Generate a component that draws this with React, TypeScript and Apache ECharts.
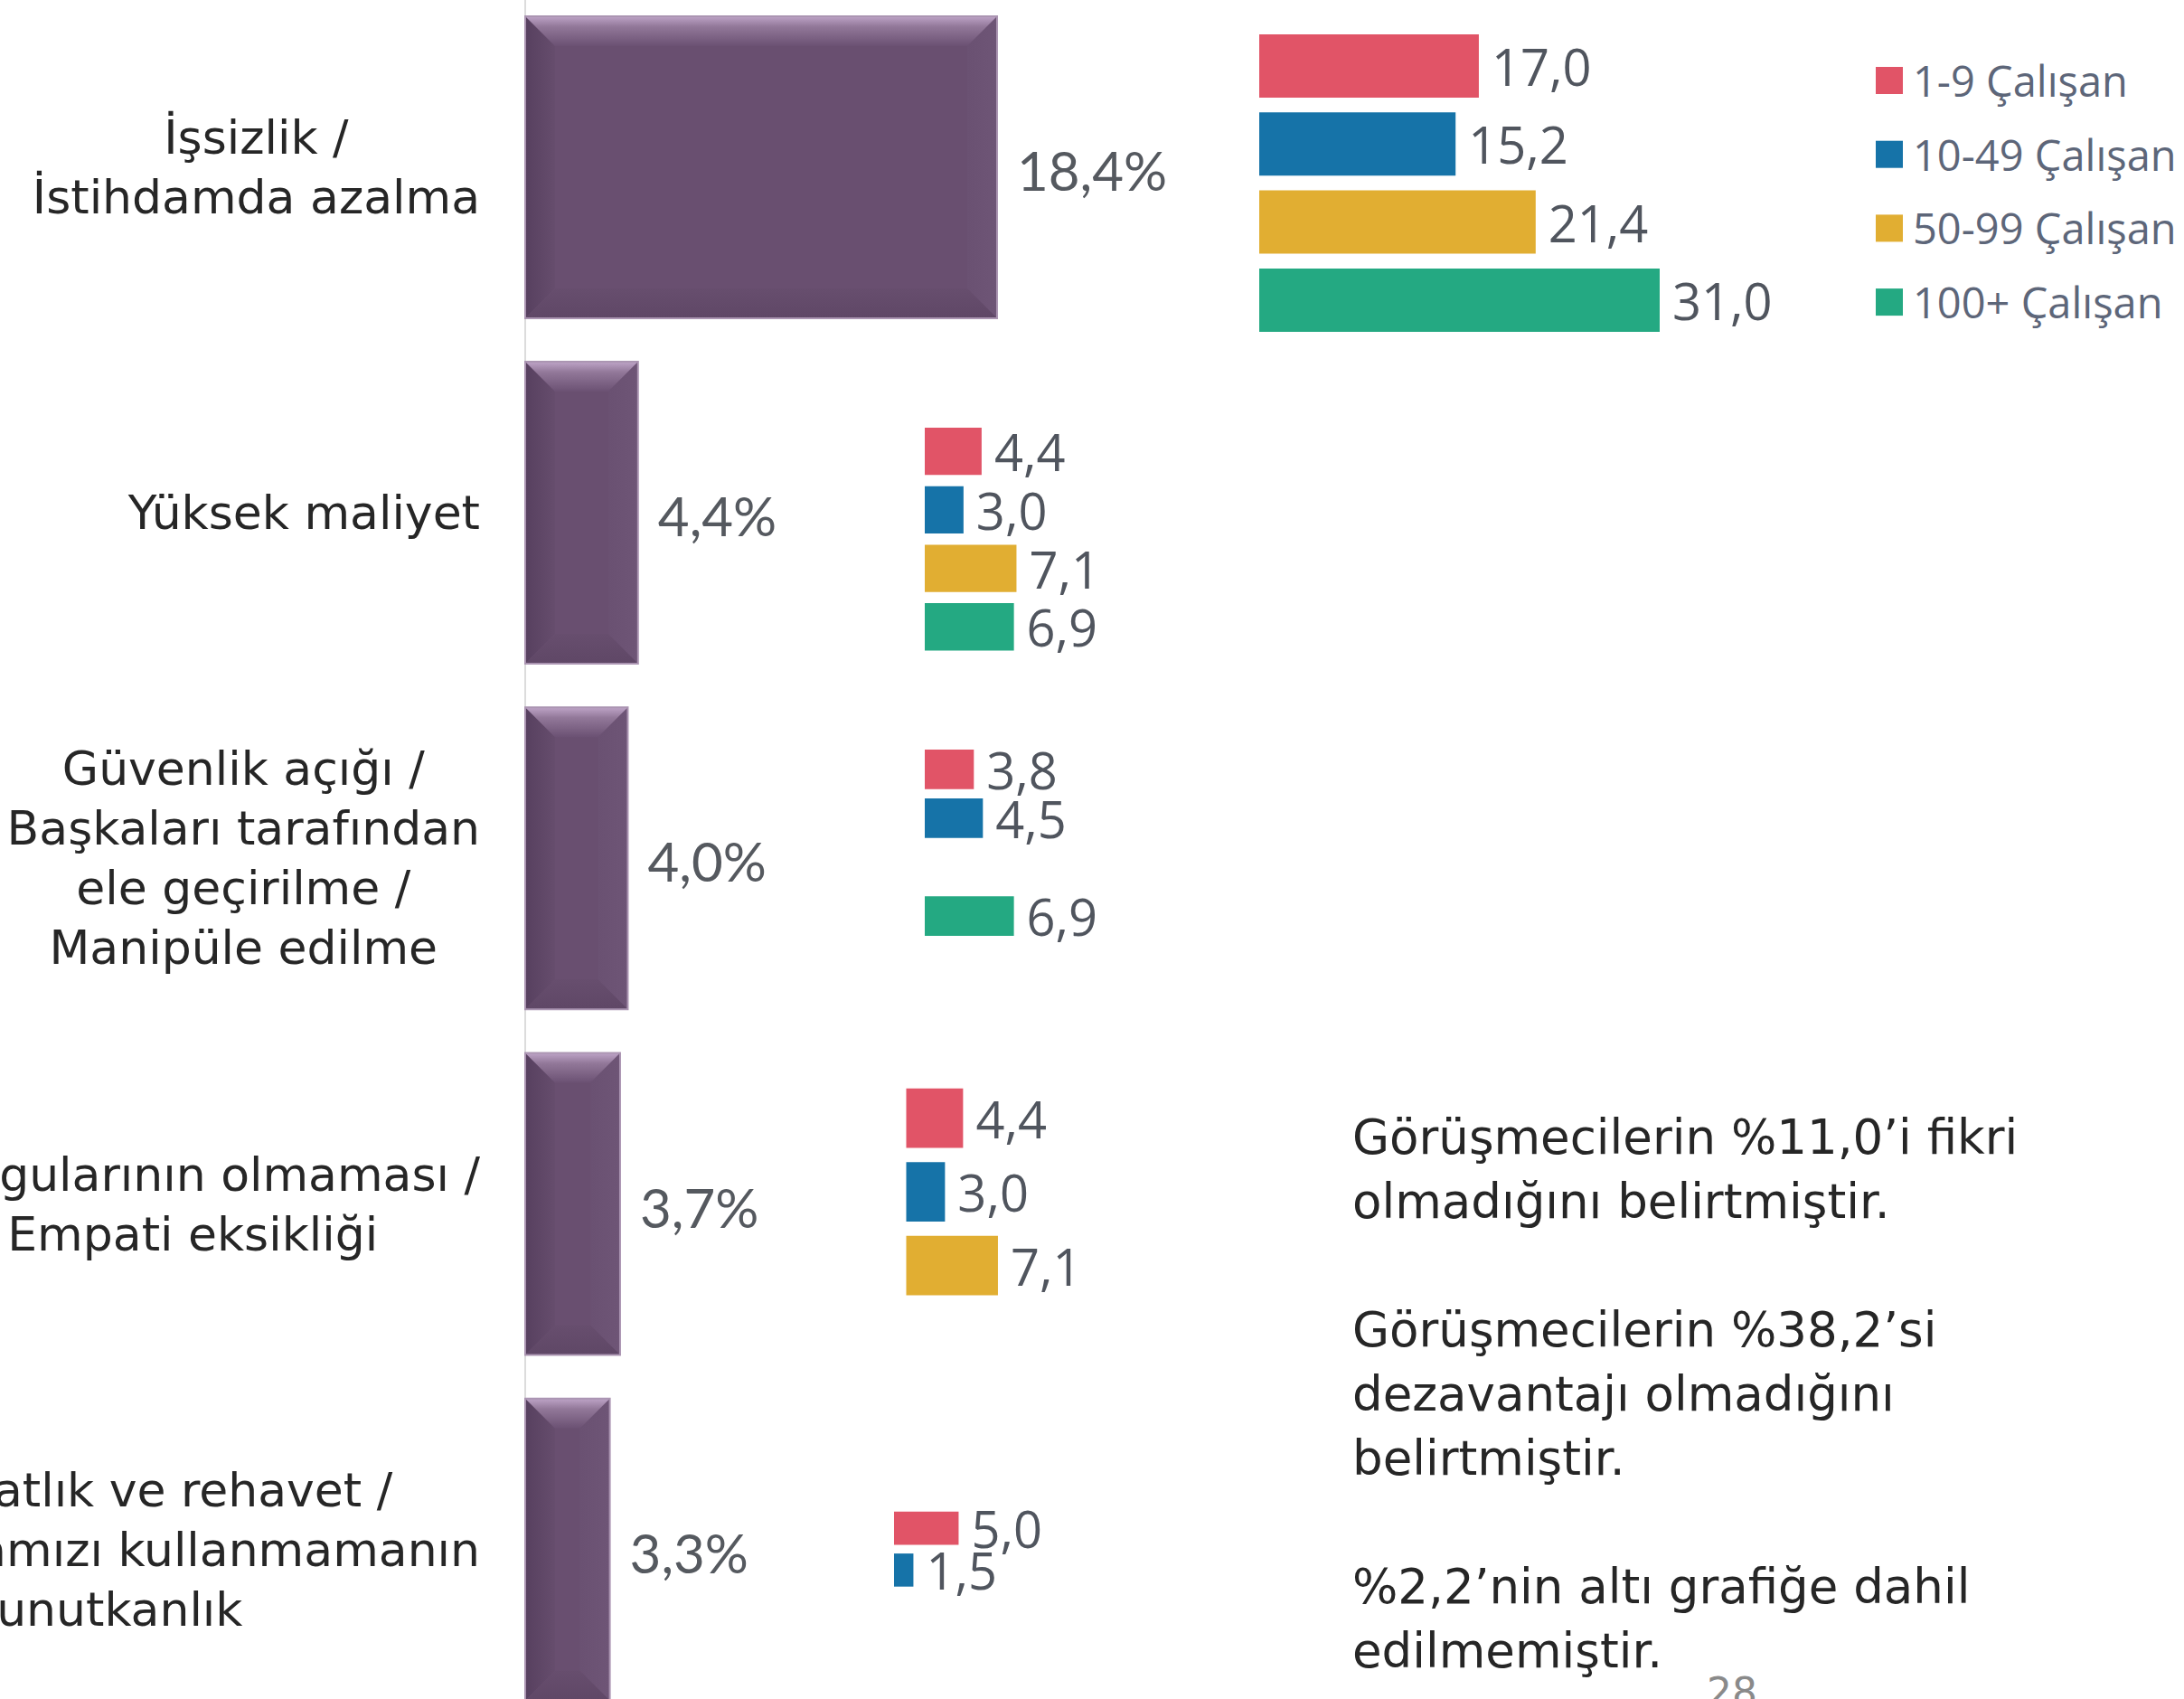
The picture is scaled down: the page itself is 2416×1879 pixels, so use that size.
import React, { useEffect, useRef } from 'react';
import * as echarts from 'echarts';

// ---------- data ----------
const categories = [
  'İşsizlik /\nİstihdamda azalma',
  'Yüksek maliyet',
  'Güvenlik açığı /\nBaşkaları tarafından\nele geçirilme /\nManipüle edilme',
  'Duygularının olmaması /\nEmpati eksikliği',
  'Tembellik / Rahatlık ve rehavet /\nBeynimizi ve hafızamızı kullanmamanın\ngetirdiği unutkanlık',
];
const totalValues = [18.4, 4.4, 4.0, 3.7, 3.3];

const sizeGroups = ['1-9 Çalışan', '10-49 Çalışan', '50-99 Çalışan', '100+ Çalışan'];
const values1to9 = [17.0, 4.4, 3.8, 4.4, 5.0];
const values10to49 = [15.2, 3.0, 4.5, 3.0, 1.5];
const values50to99 = [21.4, 7.1, null, 7.1, null];
const values100plus = [31.0, 6.9, 6.9, null, null];
const groupValues = [values1to9, values10to49, values50to99, values100plus];
const groupColors = ['#e15467', '#1673a8', '#e1ae32', '#24a982'];

const noteLines = [
  'Görüşmecilerin %11,0’i fikri',
  'olmadığını belirtmiştir.',
  '',
  'Görüşmecilerin %38,2’si',
  'dezavantajı olmadığını',
  'belirtmiştir.',
  '',
  '%2,2’nin altı grafiğe dahil',
  'edilmemiştir.',
];
const pageNumber = '28';

// ---------- layout (positions only) ----------
const MAIN_LEFT = 581;
const MAIN_TOP = -6.2;
const MAIN_BAND = 382.2;
const MINI_PX_PER_UNIT = 14.29;
const MINI_MAX = 40;
const LIGHT_FONT = "'DejaVu Sans ExtraLight', 'DejaVu Sans'";
// per mini chart: left x, top of first bar, bar width, gap between bars
const miniLayout = [
  { left: 1393, top: 38, bw: 70, gap: 16.3 },
  { left: 1023, top: 473, bw: 52.3, gap: 12.4 },
  { left: 1023, top: 829, bw: 43.7, gap: 10.4 },
  { left: 1002.5, top: 1203.8, bw: 65.6, gap: 15.9 },
  { left: 989, top: 1671.8, bw: 36.6, gap: 9.7 },
];

const fmt = (v: number) => v.toFixed(1).replace('.', ',');

function buildOption() {
  const grids: any[] = [
    {
      left: MAIN_LEFT,
      top: MAIN_TOP,
      width: 1134.8,
      height: MAIN_BAND * categories.length,
      containLabel: false,
      outerBoundsMode: 'none',
    },
  ];
  const xAxes: any[] = [{ type: 'value', min: 0, max: 40, show: false, gridIndex: 0 }];
  const yAxes: any[] = [
    {
      type: 'category',
      gridIndex: 0,
      data: categories,
      inverse: true,
      axisLine: { show: true, lineStyle: { color: '#dcdcdc', width: 2 } },
      axisTick: { show: false },
      splitLine: { show: false },
      axisLabel: {
        interval: 0,
        margin: 50,
        formatter: (v: string) =>
          v
            .split('\n')
            .map((l) => `{c|${l}}`)
            .join('\n'),
        rich: {
          c: {
            align: 'center',
            fontSize: 52,
            lineHeight: 66,
            fontFamily: LIGHT_FONT,
            color: '#262626',
          },
        },
      },
    },
  ];

  const series: any[] = [
    {
      type: 'custom',
      name: 'Toplam',
      xAxisIndex: 0,
      yAxisIndex: 0,
      encode: { x: 0, y: 1 },
      data: totalValues.map((v, i) => [v, i]),
      renderItem: (params: any, api: any) => {
        const idx = api.value(1);
        const val = api.value(0);
        const s = api.coord([0, idx]);
        const e = api.coord([val, idx]);
        const band = api.size([0, 1])[1];
        const h = band * 0.874;
        const x0 = s[0];
        const x1 = e[0];
        const y0 = s[1] - h / 2;
        const y1 = s[1] + h / 2;
        const b = Math.min(33, (x1 - x0) / 2);
        return {
          type: 'group',
          children: [
            {
              type: 'rect',
              shape: { x: x0, y: y0, width: x1 - x0, height: h },
              style: { fill: '#694f70' },
            },
            {
              type: 'polygon',
              shape: { points: [[x0, y0], [x0 + b, y0 + b], [x0 + b, y1 - b], [x0, y1]] },
              style: {
                fill: new echarts.graphic.LinearGradient(0, 0, 1, 0, [
                  { offset: 0, color: '#57405f' },
                  { offset: 1, color: '#664d6d' },
                ]),
              },
            },
            {
              type: 'polygon',
              shape: { points: [[x1, y0], [x1, y1], [x1 - b, y1 - b], [x1 - b, y0 + b]] },
              style: {
                fill: new echarts.graphic.LinearGradient(0, 0, 1, 0, [
                  { offset: 0, color: '#6a5172' },
                  { offset: 1, color: '#6e5576' },
                ]),
              },
            },
            {
              type: 'polygon',
              shape: { points: [[x0, y1], [x1, y1], [x1 - b, y1 - b], [x0 + b, y1 - b]] },
              style: {
                fill: new echarts.graphic.LinearGradient(0, 0, 0, 1, [
                  { offset: 0, color: '#674e6e' },
                  { offset: 1, color: '#5f4766' },
                ]),
              },
            },
            {
              type: 'polygon',
              shape: { points: [[x0, y0], [x1, y0], [x1 - b, y0 + b], [x0 + b, y0 + b]] },
              style: {
                fill: new echarts.graphic.LinearGradient(0, 0, 0, 1, [
                  { offset: 0, color: '#bea4c7' },
                  { offset: 0.35, color: '#927899' },
                  { offset: 1, color: '#6b5173' },
                ]),
              },
            },
            {
              type: 'rect',
              shape: { x: x0, y: y0, width: x1 - x0, height: h },
              style: { fill: 'none', stroke: '#ab95b2', lineWidth: 2 },
            },
            {
              type: 'text',
              x: x1 + 22,
              y: s[1] + 3,
              style: {
                text: fmt(val) + '%',
                fontSize: 60,
                fontFamily: 'Lato',
                fill: '#55595f',
                align: 'left',
                verticalAlign: 'middle',
              },
            },
          ],
        };
      },
    },
  ];

  miniLayout.forEach((m, k) => {
    const gi = k + 1;
    const block = 4 * m.bw + 3 * m.gap;
    grids.push({
      left: m.left,
      top: m.top,
      width: MINI_MAX * MINI_PX_PER_UNIT,
      height: block,
      containLabel: false,
      outerBoundsMode: 'none',
    });
    xAxes.push({ type: 'value', min: 0, max: MINI_MAX, show: false, gridIndex: gi });
    yAxes.push({
      type: 'category',
      gridIndex: gi,
      data: [categories[k]],
      inverse: true,
      show: false,
    });
    sizeGroups.forEach((g, s) => {
      series.push({
        type: 'bar',
        name: g,
        xAxisIndex: gi,
        yAxisIndex: gi,
        data: [groupValues[s][k]],
        barWidth: m.bw,
        barGap: ((m.gap / m.bw) * 100).toFixed(1) + '%',
        itemStyle: { color: groupColors[s] },
        label: {
          show: true,
          position: 'right',
          distance: 14,
          formatter: (p: any) => fmt(p.value),
          fontSize: 56,
          fontFamily: 'Open Sans',
          color: '#50555e',
        },
      });
    });
  });

  return {
    animation: false,
    backgroundColor: '#ffffff',
    grid: grids,
    xAxis: xAxes,
    yAxis: yAxes,
    series,
    legend: {
      data: sizeGroups.map((g) => ({ name: g, icon: 'rect' })),
      orient: 'vertical',
      left: 2070,
      top: 59,
      itemWidth: 30,
      itemHeight: 30,
      itemGap: 31.7,
      selectedMode: false,
      textStyle: {
        fontSize: 47,
        lineHeight: 50,
        fontFamily: 'Open Sans',
        color: '#5d6679',
        padding: [0, 0, 0, 6],
      },
    },
    graphic: [
      {
        type: 'text',
        left: 1496,
        top: 1221.5,
        style: {
          text: noteLines.join('\n'),
          fontSize: 53,
          lineHeight: 71,
          fontFamily: LIGHT_FONT,
          fill: '#262626',
        },
      },
      {
        type: 'text',
        left: 1888,
        top: 1849,
        style: {
          text: pageNumber,
          fontSize: 44,
          fontFamily: LIGHT_FONT,
          fill: '#8a8a8a',
        },
      },
    ],
  };
}

export default function App() {
  const ref = useRef<HTMLDivElement>(null);
  useEffect(() => {
    const chart = echarts.init(ref.current!, null, { renderer: 'svg' });
    chart.setOption(buildOption() as any);
    return () => chart.dispose();
  }, []);
  return (
    <div
      ref={ref}
      style={{ position: 'absolute', left: 0, top: 0, width: 2416, height: 1879, background: '#ffffff' }}
    />
  );
}
